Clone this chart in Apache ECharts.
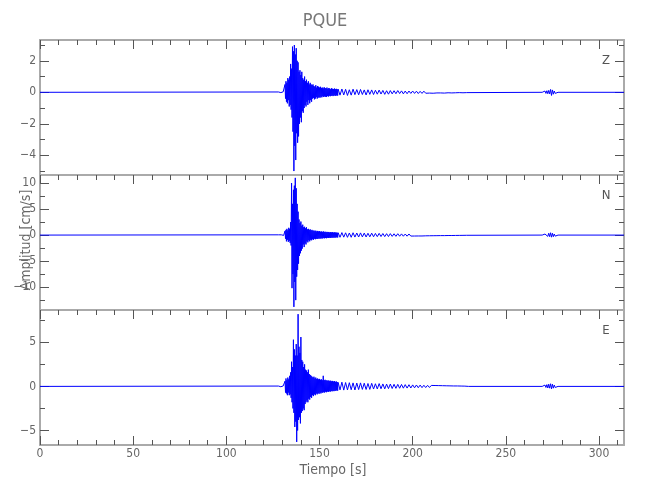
<!DOCTYPE html>
<html><head><meta charset="utf-8">
<script src="https://cdn.jsdelivr.net/npm/echarts@6/dist/echarts.min.js"></script>
<style>html,body{margin:0;padding:0;background:#fff}#c{width:650px;height:500px}</style>
</head><body><div id="c"></div>
<script>
// ---- data ----
const stations = ['Z', 'N', 'E'];
const title = 'PQUE';
const xTicks = [0, 50, 100, 150, 200, 250, 300];
const xMinorTicks = [10,20,30,40,60,70,80,90,110,120,130,140,160,170,180,190,210,220,230,240,260,270,280,290,310];
const zTicks = [2, 0, -2, -4];
const zMinor = [3, 1, -1, -3, -5];
const nTicks = [10, 5, 0, -5, -10];
const nMinor = [7.5, 2.5, -2.5, -7.5, -12.5];
const eTicks = [5, 0, -5];
const eMinor = [7.5, 2.5, -2.5];

// dense part: bins from 128 s every 0.5 s, high and low excursion within each bin
const denseStart = 128, denseStep = 0.5;
const zHi = [0.02,0.02,0.02,0.02,0.03,0.03,0.05,
 0.5,0.7,0.6,0.9,0.8,1.0,1.8,1.5,2.9,2.6,3.0,2.4,2.8,2.0,1.9,1.3,1.4,1.1,1.3,0.9,0.8,1.0,0.7,0.8,0.6,0.7,0.5,0.6,0.5,
 0.45,0.5,0.4,0.35,0.45,0.3,0.4,0.35,0.3,0.35,0.28,0.3,0.25,0.32,0.27,0.25,0.3,0.22,0.27,0.24,0.2,0.26,0.22,0.2,0.24,0.2,0.22,0.19];
const zLo = [-0.02,-0.02,-0.02,-0.02,-0.03,-0.03,-0.05,
 -0.4,-0.6,-0.7,-0.5,-0.9,-0.8,-1.1,-1.6,-2.5,-5.0,-3.4,-4.3,-2.6,-3.2,-2.8,-2.0,-1.6,-1.9,-1.2,-1.3,-1.0,-0.8,-0.9,-0.6,-0.8,-0.5,-0.7,-0.5,-0.6,
 -0.4,-0.35,-0.45,-0.4,-0.3,-0.4,-0.35,-0.3,-0.35,-0.28,-0.32,-0.25,-0.3,-0.26,-0.28,-0.3,-0.24,-0.27,-0.22,-0.25,-0.23,-0.2,-0.24,-0.21,-0.2,-0.23,-0.19,-0.21];
const nHi = [0.05,0.05,0.05,0.05,0.06,0.06,0.08,
 0.8,1.0,1.2,0.9,1.4,1.2,2.5,10.0,6.0,8.7,9.5,11.0,9.0,6.0,4.5,3.0,2.3,2.6,1.8,2.0,1.5,1.6,1.3,1.5,1.1,1.2,1.0,1.1,0.9,
 1.0,0.8,0.9,0.75,0.85,0.7,0.8,0.7,0.75,0.65,0.7,0.6,0.72,0.6,0.65,0.55,0.62,0.58,0.6,0.5,0.58,0.52,0.55,0.48,0.52,0.5,0.48,0.45];
const nLo = [-0.05,-0.05,-0.05,-0.05,-0.06,-0.06,-0.08,
 -0.7,-1.2,-0.9,-1.3,-1.1,-1.5,-2.0,-10.2,-7.5,-13.8,-9.0,-12.5,-8.0,-6.7,-5.5,-4.0,-3.5,-3.0,-2.6,-1.8,-2.3,-1.6,-1.8,-1.2,-1.4,-1.0,-1.2,-0.9,-1.0,
 -0.8,-0.9,-0.7,-0.8,-0.7,-0.75,-0.65,-0.7,-0.62,-0.68,-0.6,-0.65,-0.55,-0.62,-0.55,-0.6,-0.5,-0.56,-0.5,-0.55,-0.48,-0.52,-0.46,-0.5,-0.45,-0.48,-0.42,-0.46];
const eHi = [0.04,0.04,0.04,0.04,0.05,0.05,0.07,
 0.6,0.9,0.7,1.0,0.8,1.2,1.6,2.8,2.2,5.3,4.2,3.5,4.8,3.5,8.2,4.5,3.8,5.6,3.0,2.8,2.2,2.5,1.9,1.8,1.6,1.9,1.4,1.3,1.2,
 1.1,1.0,1.1,0.9,1.0,0.85,0.9,0.8,0.85,0.75,0.8,0.7,1.2,0.7,0.75,0.65,0.7,0.62,0.68,0.6,0.65,0.58,0.62,0.55,0.6,0.52,0.56,0.5];
const eLo = [-0.04,-0.04,-0.04,-0.04,-0.05,-0.05,-0.07,
 -0.7,-0.8,-1.0,-0.7,-1.0,-0.9,-1.3,-1.8,-2.5,-3.0,-4.6,-4.0,-6.3,-5.0,-3.8,-3.5,-4.2,-3.0,-2.8,-2.5,-2.7,-2.0,-1.8,-1.6,-1.8,-1.4,-1.5,-1.2,-1.3,
 -1.0,-1.1,-0.9,-1.0,-0.8,-0.9,-0.75,-0.85,-0.7,-0.8,-0.68,-0.72,-0.65,-0.7,-0.6,-0.66,-0.58,-0.62,-0.55,-0.6,-0.52,-0.56,-0.5,-0.54,-0.48,-0.5,-0.45,-0.48];

// coda: one sample per second from 160 s
const codaStart = 160, codaStep = 1;
const zCoda = [0.2,-0.18,0.21,-0.17,0.19,-0.2,0.16,-0.18,0.2,-0.15,
 0.17,-0.16,0.18,-0.14,0.15,-0.17,0.16,-0.13,0.15,-0.14,
 0.13,-0.12,0.14,-0.11,0.12,-0.13,0.1,-0.12,0.11,-0.1,
 0.1,-0.09,0.11,-0.08,0.09,-0.1,0.08,-0.09,0.08,-0.07,
 0.08,-0.07,0.07,-0.08,0.06,-0.07,0.07,-0.06,0.06,-0.05,
 0.05,-0.06,0.05,-0.04,0.05,-0.04,0.04,-0.05,0.04,-0.03,
 0.03,-0.04,0.03,-0.03,0.03,-0.02,0.02,-0.03,0.02,-0.02];
const nCoda = [0.45,-0.42,0.48,-0.4,0.44,-0.43,0.4,-0.42,0.45,-0.38,
 0.4,-0.37,0.42,-0.35,0.38,-0.36,0.35,-0.33,0.37,-0.32,
 0.32,-0.3,0.33,-0.28,0.3,-0.29,0.27,-0.28,0.28,-0.25,
 0.25,-0.24,0.26,-0.22,0.23,-0.22,0.2,-0.21,0.21,-0.19,
 0.19,-0.18,0.18,-0.17,0.16,-0.17,0.15,-0.14,0.15,-0.13,
 0.13,-0.12,0.12,-0.11,0.11,-0.1,0.1,-0.1,0.09,-0.08,
 0.08,-0.08,0.07,-0.07,0.06,-0.06,0.05,-0.05,0.04,-0.04];
const eCoda = [0.45,-0.4,0.48,-0.42,0.44,-0.4,0.42,-0.38,0.4,-0.41,
 0.38,-0.36,0.4,-0.34,0.36,-0.35,0.33,-0.34,0.35,-0.3,
 0.3,-0.29,0.32,-0.27,0.28,-0.28,0.26,-0.25,0.27,-0.24,
 0.24,-0.22,0.23,-0.21,0.22,-0.2,0.2,-0.19,0.19,-0.18,
 0.17,-0.16,0.16,-0.15,0.15,-0.14,0.13,-0.13,0.12,-0.12,
 0.11,-0.1,0.1,-0.09,0.09,-0.09,0.08,-0.07,0.07,-0.07,
 0.06,-0.06,0.05,-0.05,0.05,-0.04,0.04,-0.04,0.03,-0.03];

// late arrival near 270-278 s, one sample every 0.5 s
const blipStart = 270, blipStep = 0.5;
const zBlip = [0.04,-0.05,0.08,-0.07,0.1,-0.09,0.12,-0.1,0.18,-0.2,0.15,-0.12,0.08,-0.07,0.05,-0.04];
const nBlip = [0.1,-0.1,0.2,-0.15,0.3,-0.25,0.35,-0.3,0.45,-0.4,0.35,-0.3,0.2,-0.2,0.1,-0.1];
const eBlip = [0.1,-0.08,0.15,-0.12,0.2,-0.18,0.25,-0.2,0.3,-0.28,0.25,-0.2,0.15,-0.12,0.08,-0.06];

const tEnd = 313.4;
const yRanges = [[-5.25, 3.32], [-14.4, 11.55], [-6.65, 8.67]];

// ---- build ----
function trace(hi, lo, coda, blip) {
  const pts = [[0, 0]];
  for (let i = 0; i < hi.length; i++) {
    const t = denseStart + i * denseStep;
    pts.push([t, hi[i]]);
    pts.push([t + denseStep / 2, lo[i]]);
  }
  for (let i = 0; i < coda.length; i++) pts.push([codaStart + i * codaStep, coda[i]]);
  pts.push([codaStart + coda.length * codaStep, 0]);
  pts.push([blipStart - blipStep, 0]);
  for (let i = 0; i < blip.length; i++) pts.push([blipStart + i * blipStep, blip[i]]);
  pts.push([blipStart + blip.length * blipStep, 0]);
  pts.push([tEnd, 0]);
  return pts;
}
const traces = [trace(zHi, zLo, zCoda, zBlip), trace(nHi, nLo, nCoda, nBlip), trace(eHi, eLo, eCoda, eBlip)];
const majorY = [zTicks, nTicks, eTicks];
const minorY = [zMinor, nMinor, eMinor];

const FONT = '"Liberation Sans Narrow","DejaVu Sans Condensed","Roboto",sans-serif';
const frame = { show: true, onZero: false, lineStyle: { color: '#aaaaaa', width: 2 } };
const noLine = { show: false, onZero: false };
const tickStyle = { color: '#555555', width: 1 };
const tops = [40, 175, 310];
const grids = tops.map(t => ({ left: 40, top: t, width: 584, height: 135 }));
const fmtMinus = v => (v < 0 ? '\u2212' + String(-v) : String(v));

const xAxis = [], yAxis = [], series = [];
tops.forEach((_, g) => {
  const last = g === 2;
  const base = { gridIndex: g, type: 'value', min: 0, max: tEnd, splitLine: { show: false } };
  const xMain = xAxis.length;
  xAxis.push(Object.assign({}, base, {
    position: 'bottom', axisLine: frame,
    axisTick: last ? { show: true, inside: true, length: 9, lineStyle: tickStyle, customValues: xTicks } : { show: false },
    axisLabel: last ? { show: true, customValues: xTicks, margin: 3, color: '#666', fontFamily: FONT, fontSize: 12 } : { show: false }
  }));
  if (last) xAxis.push(Object.assign({}, base, {
    position: 'bottom', axisLine: noLine,
    axisTick: { show: true, inside: true, length: 5, lineStyle: tickStyle, customValues: xMinorTicks },
    axisLabel: { show: false }
  }));
  xAxis.push(Object.assign({}, base, {
    position: 'top', axisLine: frame,
    axisTick: { show: true, inside: true, length: 9, lineStyle: tickStyle, customValues: xTicks },
    axisLabel: { show: false }
  }));
  xAxis.push(Object.assign({}, base, {
    position: 'top', axisLine: noLine,
    axisTick: { show: true, inside: true, length: 5, lineStyle: tickStyle, customValues: xMinorTicks },
    axisLabel: { show: false }
  }));
  const yb = { gridIndex: g, type: 'value', min: yRanges[g][0], max: yRanges[g][1], splitLine: { show: false } };
  const yMain = yAxis.length;
  yAxis.push(Object.assign({}, yb, {
    position: 'left', axisLine: frame,
    axisTick: { show: true, inside: true, length: 9, lineStyle: tickStyle, customValues: majorY[g] },
    axisLabel: { show: true, customValues: majorY[g], margin: 4, color: '#666', fontFamily: FONT, fontSize: 12, formatter: fmtMinus }
  }));
  yAxis.push(Object.assign({}, yb, {
    position: 'left', axisLine: noLine,
    axisTick: { show: true, inside: true, length: 5, lineStyle: tickStyle, customValues: minorY[g] },
    axisLabel: { show: false }
  }));
  yAxis.push(Object.assign({}, yb, {
    position: 'right', axisLine: frame,
    axisTick: { show: true, inside: true, length: 9, lineStyle: tickStyle, customValues: majorY[g] },
    axisLabel: { show: false }
  }));
  yAxis.push(Object.assign({}, yb, {
    position: 'right', axisLine: noLine,
    axisTick: { show: true, inside: true, length: 5, lineStyle: tickStyle, customValues: minorY[g] },
    axisLabel: { show: false }
  }));
  series.push({
    type: 'line', xAxisIndex: xMain, yAxisIndex: yMain, data: traces[g],
    showSymbol: false, symbol: 'none', animation: false, silent: true,
    lineStyle: { color: '#0000ff', width: 1 }, z: 1
  });
});

const graphic = [
  { type: 'text', left: 'center', top: 12, style: { text: title, font: '18px ' + FONT, fill: '#777' } },
  { type: 'text', x: 333, y: 470, style: { text: 'Tiempo [s]', font: '14px ' + FONT, fill: '#666', textAlign: 'center', textVerticalAlign: 'middle' } },
  { type: 'text', x: 26, y: 240, rotation: Math.PI / 2, style: { text: 'Amplitud [cm/s]', font: '14px ' + FONT, fill: '#666', textAlign: 'center', textVerticalAlign: 'middle' } }
];
stations.forEach((s, g) => graphic.push({ type: 'text', x: 606, y: tops[g] + 21, style: { text: s, font: '13px ' + FONT, fill: '#555', textAlign: 'center', textVerticalAlign: 'middle' } }));

const chart = echarts.init(document.getElementById('c'), null, { renderer: 'canvas' });
chart.setOption({ animation: false, backgroundColor: '#fff', grid: grids, xAxis, yAxis, series, graphic });
</script></body></html>
